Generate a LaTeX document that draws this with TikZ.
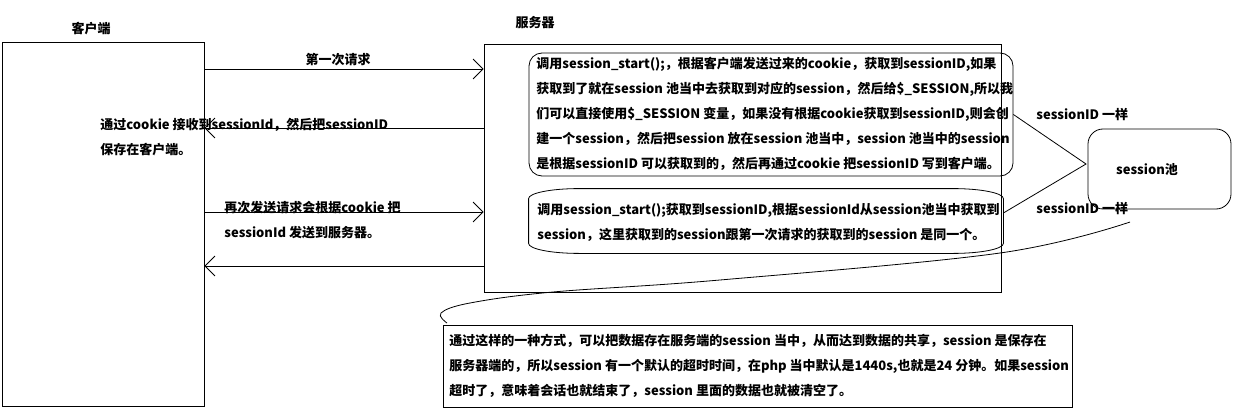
\documentclass[tikz,border=0pt]{standalone}
\usepackage{fontspec}
\setmainfont{Noto Sans CJK SC}
\usetikzlibrary{arrows.meta}
\begin{document}
\begin{tikzpicture}[x=1pt,y=-1pt,line width=0.8pt,
  box/.style={draw,inner sep=0pt},
  txt/.style={font=\bfseries\fontsize{13}{25}\selectfont,inner sep=0pt,align=left,anchor=north west},
  lbl/.style={font=\bfseries\fontsize{13}{25}\selectfont,inner sep=0pt},
  arr/.style={-{Straight Barb[length=10pt,width=20pt]}}]
\useasboundingbox (0,0) rectangle (1237,417);
% main boxes
\node[box,minimum width=202pt,minimum height=364pt] (client) at (103,224) {};
\node[box,minimum width=517pt,minimum height=248pt] (server) at (742.5,168) {};
\node[lbl] (clientlbl) at (91,29) {客户端};
\node[lbl] (serverlbl) at (535,23) {服务器};
% arrow levels
\coordinate (r1) at (0,69);
\coordinate (r2) at (0,128);
\coordinate (r3) at (0,212);
\coordinate (r4) at (0,266);
\draw[arr] (client.east |- r1) -- (server.west |- r1);
\draw[arr] (server.west |- r2) -- (client.east |- r2);
\draw[arr] (client.east |- r3) -- (server.west |- r3);
\draw[arr] (server.west |- r4) -- (client.east |- r4);
\node[lbl] (req1) at (338,60) {第一次请求};
\node[txt] (t2) at (100,118) {通过cookie 接收到sessionId，然后把sessionID\\保存在客户端。};
\node[txt] (t3) at (224,201) {再次发送请求会根据cookie 把\\sessionId 发送到服务器。};
% box 1
\node[box,rounded corners=13pt,minimum width=484pt,minimum height=123pt] (b1) at (771,114.5) {};
\node[txt] (b1t) at (536,57) {调用session\_start();，根据客户端发送过来的cookie，获取到sessionID,如果\\
获取到了就在session 池当中去获取到对应的session，然后给\$\_SESSION,所以我\\
们可以直接使用\$\_SESSION 变量，如果没有根据cookie获取到sessionID,则会创\\
建一个session，然后把session 放在session 池当中，session 池当中的session\\
是根据sessionID 可以获取到的，然后再通过cookie 把sessionID 写到客户端。};
% box 2
\node[inner sep=0pt,minimum width=474pt,minimum height=64pt] (b2) at (766,221) {};
\draw ([xshift=50pt]b2.north west) -- ([xshift=-50pt]b2.north east)
  arc[start angle=-90,end angle=0,x radius=50,y radius=10]
  -- ([yshift=10pt]b2.south east)
  arc[start angle=0,end angle=90,x radius=50,y radius=10]
  -- ([xshift=50pt]b2.south west)
  arc[start angle=90,end angle=180,x radius=50,y radius=10]
  -- ([yshift=-10pt]b2.north west)
  arc[start angle=180,end angle=270,x radius=50,y radius=10] -- cycle;
\node[txt] (b2t) at (537,203) {调用session\_start();获取到sessionID,根据sessionId从session池当中获取到\\
session，这里获取到的session跟第一次请求的获取到的session 是同一个。};
% session pool
\node[box,rounded corners=15pt,minimum width=143pt,minimum height=80pt] (pool) at (1159.5,169) {};
\node[lbl] (poolt) at (1147,170) {session池};
\coordinate (meet) at (1086,164);
\draw (b1.east) -- (meet) -- ([yshift=8pt]b2.east);
\node[lbl,anchor=west] (same1) at (1036,115) {sessionID 一样};
\node[lbl,anchor=west] (same2) at (1036,209) {sessionID 一样};
% note
\node[box,minimum width=629pt,minimum height=82pt] (note) at (757.5,366) {};
\node[txt] (notet) at (449,334) {通过这样的一种方式，可以把数据存在服务端的session 当中，从而达到数据的共享，session 是保存在\\
服务器端的，所以session 有一个默认的超时时间，在php 当中默认是1440s,也就是24 分钟。如果session\\
超时了，意味着会话也就结束了，session 里面的数据也就被清空了。};
\draw plot[smooth,tension=0.6] coordinates {(1130,222) (1000,253) (720,280) (553,292) (470,303) (441,313) (447,323)};
\end{tikzpicture}
\end{document}
